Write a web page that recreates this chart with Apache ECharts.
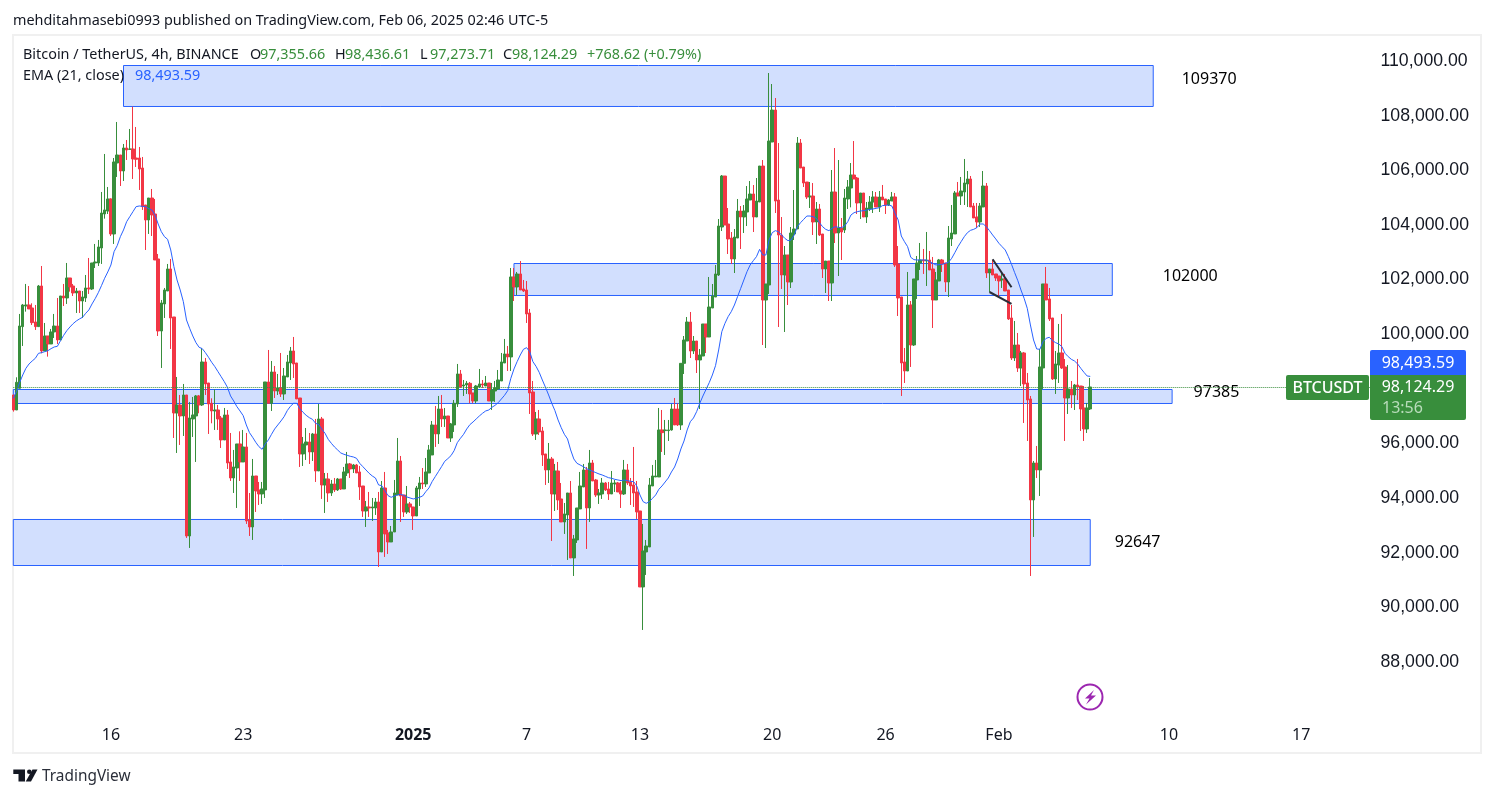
<!DOCTYPE html>
<html>
<head>
<meta charset="utf-8">
<title>BTCUSDT 4h</title>
<script src="https://cdn.jsdelivr.net/npm/echarts@6/dist/echarts.min.js"></script>
<style>
html, body { margin: 0; padding: 0; background: #fff; }
#main { width: 1494px; height: 798px; }
</style>
</head>
<body>
<div id="main"></div>
<script>
var opens = [
97776,97227,98020,100277,101033,101070,100960,100448,100277,101765,
99386,99935,99643,100082,100301,99789,101399,101326,102058,101765,
101509,101582,101216,101326,101692,101656,102607,102607,103156,104401,
104510,104950,103669,106267,106560,105974,106816,106768,106780,106450,
106450,106084,104730,104181,104986,104401,102754,100118,101107,101582,
102388,100631,97117,97410,97007,97776,92615,96898,97007,97739,
97410,98984,98215,97471,97190,97227,96934,96129,97044,95324,
94738,95104,95983,95324,95873,93201,92945,94811,94299,94153,
94299,98252,97471,98618,97922,98032,97813,98435,98947,99386,
98947,97666,95617,95946,96056,95690,96349,94994,96898,94482,
94702,94189,94519,94299,94702,94336,94921,95251,95068,95214,
94958,94445,93530,93677,93640,93640,93860,92030,94372,92725,
92396,92762,94116,95360,94116,93494,93787,93677,93347,94336,
94555,94519,94921,95580,96678,96349,97264,96898,97007,96202,
96678,97447,98545,98105,98142,98203,97849,97556,98069,98179,
98105,98215,97556,97922,97996,98288,98947,99277,99167,102095,
101729,102205,101656,101619,100777,97886,96349,96898,96458,95617,
95031,95434,94153,94994,93970,93128,93384,94189,91810,92469,
93604,94409,95031,93640,95287,94665,94116,94153,94555,94336,
94153,94519,94555,94262,94153,95031,94592,94482,94226,93530,
90749,92030,92213,94445,94775,94775,96495,96471,96471,96495,
97264,97264,96678,98934,99751,100447,99385,99751,99056,99202,
100374,99898,100959,101362,102167,103924,105790,104034,103521,102753,
103521,104509,104290,104473,104912,105132,104290,104839,106156,101252,
101801,107035,108206,104912,103631,102167,102899,101911,103668,103851,
106998,106120,105571,105022,105058,104107,104583,103668,102387,102679,
101874,105205,103704,103887,103814,104949,105351,105827,105717,104802,
105168,104290,104583,104839,105022,104656,105023,104950,104730,104876,
105023,102571,101363,98984,98654,101070,99606,101985,102607,102717,
102680,102717,102388,101253,101948,102717,102607,101912,103486,103669,
105169,105059,105206,105499,105682,104693,104291,104108,104657,105425,
102241,102388,102205,102131,101985,102022,101619,100594,99130,99606,
98764,99313,98215,97630,93933,95287,95031,98764,101839,101290,
100594,98362,98874,99313,98801,97666,97996,97776,98142,98105,
97300,96532,97264];

var closes = [
97227,98240,100301,101070,101070,100924,100423,100277,101765,99386,
99935,99643,100082,100301,99789,101399,101326,102058,101729,101509,
101582,101216,101363,101692,101656,102607,102644,103193,104437,104547,
104950,103669,106304,106560,105974,106816,106743,106780,106414,106401,
106048,104669,104181,104986,104364,102717,100118,101143,101619,102388,
100594,97117,97410,97007,97776,92615,96934,97044,97739,97410,
98984,98179,97447,97190,97227,96898,96129,97044,95287,94738,
95141,95983,95324,95873,93164,92945,94811,94262,94153,94336,
98252,97471,98618,97922,98032,97813,98471,98984,99386,98911,
97630,95617,95983,96056,95690,96349,94994,96898,94482,94702,
94189,94519,94299,94702,94336,94958,95251,95068,95214,94921,
94409,93530,93677,93640,93677,93860,92030,94372,92689,92396,
92762,94189,95360,94079,93494,93787,93677,93347,94372,94555,
94519,94958,95763,96678,96349,97264,96898,97007,96202,96715,
97471,98545,98069,98142,98203,97813,97556,98105,98179,98142,
98215,97556,97959,98032,98325,98984,99277,99167,102095,101729,
102205,101619,101582,100741,97849,96349,96898,96422,95580,95031,
95434,94153,94994,93933,93128,93421,94189,91810,92506,93640,
94445,95031,93640,95287,94628,94116,94189,94555,94299,94153,
94555,94555,94226,94153,95031,94555,94445,94189,93494,90749,
92066,92249,94482,94811,94811,96495,96397,96495,96495,97264,
96678,96678,98934,99788,100447,99385,99751,99056,99239,100374,
99898,100996,101398,102204,103960,105790,103997,103485,102753,103558,
104509,104290,104509,104949,105132,104290,104875,106156,101252,101838,
107071,108206,104875,103631,102167,102899,101911,103704,103851,106998,
106083,105534,105022,105058,104107,104583,103631,102387,102679,101874,
105205,103704,103887,103741,104985,105388,105827,105681,104802,105168,
104290,104619,104839,105022,104656,105022,104913,104730,104913,105023,
102534,101326,98947,98654,101070,99606,102022,102607,102717,102680,
102717,102351,101253,101985,102717,102571,101912,103522,103705,105169,
105059,105242,105535,105682,104657,104254,104108,104693,105425,102241,
102388,102168,102058,101948,102022,101582,100558,99130,99606,98764,
99313,98179,97593,93933,95287,95031,98801,101839,101253,100558,
98362,98911,99313,98764,97666,97996,97776,98142,98069,97264,
96532,97300,98069];

var highs = [
97776,98423,100741,101107,101839,101765,101131,101070,101802,102497,
100411,99935,100192,100741,101326,101399,101839,102607,102058,101839,
101692,101582,101582,102168,102790,102607,103303,103449,105206,106597,
105389,104974,106450,107768,106560,106963,107109,107512,108329,107585,
106853,106487,104730,104986,105316,104950,102937,101253,101692,102571,
102754,100631,98435,97776,98179,97776,97520,97703,97776,97776,
99496,99130,98215,97654,97983,97410,97007,97300,97227,96385,
95763,95983,96446,96495,96385,94189,95434,94811,94592,94592,
98252,99423,99020,98837,98545,99313,98764,99240,99533,99899,
98947,97666,96239,96568,96385,96385,96898,97447,96971,94921,
94921,94665,94738,94738,94702,95141,95690,95287,95251,95251,
95177,94445,93896,94226,94006,94006,94226,94628,94958,92835,
92981,94665,96202,95543,94116,94445,93860,93677,94445,94775,
95104,95470,95946,96824,97373,97739,97776,97300,97007,96751,
97593,98911,98691,98325,98288,98252,97849,98142,98728,98325,
98471,98215,98215,98288,98691,99313,99826,99569,102424,102424,
102278,102680,101985,101948,100924,98288,97154,97227,96605,95617,
96019,95507,95251,95324,94555,93823,94189,94628,92652,93640,
94958,95251,95141,95763,95397,94702,94336,94738,94592,94592,
94994,94665,94592,94592,95397,95251,94738,95873,94628,93530,
93055,92469,94738,95214,95397,97300,97227,96861,96861,97447,
97666,97471,98934,99934,100630,100813,99934,99751,99459,100374,
100374,102094,101838,102533,104217,105827,105790,104619,103741,103851,
104949,104692,104729,105424,105607,105461,105717,106156,106376,101838,
109560,109158,108645,106998,104290,103228,102899,103924,105278,107218,
107145,106120,105571,105571,105534,104839,104766,103668,102679,102679,
106010,106815,106376,104253,105315,105644,106266,107071,105754,105168,
105168,104839,105058,105241,105205,105241,105462,104950,104950,105206,
105169,103229,101363,99496,102278,101216,102022,102863,103339,103120,
103742,103046,102827,102278,102754,102754,102607,103961,104730,105242,
105572,105755,106414,105974,105791,104803,104803,104803,105974,105535,
102388,102717,102205,102131,102278,102205,101619,101070,100484,100045,
99386,99350,98581,97739,95360,95909,99460,101839,102461,101692,
100594,99386,100375,100741,99094,98874,98288,98179,99094,98105,
98105,97483,98398];

var lows = [
97166,97227,98020,99569,100826,100924,100338,100155,100277,99301,
99386,99179,99643,99862,99643,99789,101033,101107,101558,101399,
100777,100777,100594,101180,101473,101619,102424,102497,102571,104230,
104401,103595,103303,105755,105425,105608,106377,106743,105682,106121,
105279,104547,103083,103669,103595,102717,99935,98764,100594,101582,
99460,96202,95653,95946,96275,92542,92176,96239,95324,97105,
97373,97776,96349,96739,96495,96495,95836,96129,95068,94628,
94189,93640,94628,95324,93055,92615,92469,93494,93750,93787,
94006,97471,97190,97666,97776,97703,97593,98435,98325,98398,
97630,95141,95177,95397,95251,95360,94592,94994,93970,93457,
93860,94079,94226,94262,94299,94336,94811,94738,94921,94921,
93933,93311,92945,93311,93164,93384,91481,92030,91847,91957,
92396,92762,94116,93128,93311,93421,93457,92835,93347,93713,
94336,94409,94921,95580,95873,95983,96605,96605,96202,96056,
96422,97337,98032,97739,97813,97471,97471,97471,98032,98032,
98105,97556,97227,97520,97959,98288,98947,98654,98654,101216,
101436,101619,101546,100411,97081,96275,96129,96312,95177,94482,
94555,92432,93530,93567,93128,92689,91737,91810,91151,92359,
93604,94409,92140,93128,94628,94043,93787,93970,94262,93933,
94153,94226,94226,93640,94116,94482,93750,93677,93238,90749,
89175,91188,92213,94445,94775,94775,95690,95580,96092,96471,
96678,96641,96495,98544,99751,99129,99276,98580,97263,99202,
99312,99898,100959,101362,102130,103777,103997,102936,102570,102240,
103521,103119,103704,103960,104912,103741,104290,104839,99605,99495,
101472,107035,104436,100264,101655,100081,101069,101691,103448,103851,
106083,105388,104949,104619,103631,103302,103594,102057,101508,101215,
101215,103338,102130,102716,103704,104583,104644,105681,104400,104217,
104290,104070,104509,104436,104656,104473,104913,104401,104693,104876,
102461,100667,97739,98215,98654,98801,99569,101290,102351,102205,
101765,102351,100228,101253,101948,102278,101546,101363,103229,103669,
105059,104730,104730,104657,104657,104254,103888,103925,104657,102058,
101546,102168,101948,101363,101692,101582,100521,99057,99020,98618,
98105,96751,96092,91151,92579,94738,94079,97996,101253,100484,
98325,97813,98215,98728,96092,97081,97300,97227,97593,96458,
96092,96385,97227];

var ema21 = [
97654,97898,98227,98508,98752,98911,99020,99118,99301,99325,
99362,99399,99472,99533,99557,99765,99960,100131,100265,100387,
100484,100558,100619,100765,100887,101107,101302,101521,101778,102046,
102278,102534,103022,103242,103571,103815,104120,104303,104486,104669,
104693,104681,104669,104596,104547,104364,104035,103754,103571,103473,
103083,102473,101985,101619,101192,100521,100216,99935,99691,99521,
99472,99325,99155,98972,98813,98630,98447,98264,98057,97739,
97556,97349,97190,97020,96678,96397,96227,96044,95885,95787,
95983,96129,96336,96532,96678,96824,96983,97203,97361,97471,
97471,97276,97142,97032,96946,96885,96739,96690,96519,96373,
96153,96007,95873,95763,95653,95604,95568,95531,95507,95458,
95275,95153,95031,94909,94811,94738,94482,94458,94275,94092,
94031,94079,94116,94140,94104,94043,94006,93970,93994,94031,
94079,94238,94372,94604,94787,94970,95153,95348,95446,95556,
95739,96031,96190,96336,96532,96690,96788,96898,97007,97105,
97190,97227,97325,97398,97495,97630,97764,97935,98386,98728,
98996,99240,99447,99508,99362,98996,98825,98606,98325,98057,
97776,97471,97203,96861,96580,96336,96166,95763,95434,95275,
95214,95153,95080,95031,94982,94933,94885,94848,94799,94750,
94726,94689,94665,94641,94665,94641,94616,94604,94445,94116,
93872,93811,93872,93994,94116,94323,94445,94591,94738,94957,
95140,95433,95799,96092,96495,96798,96934,97165,97470,97738,
97982,98226,98507,98849,99422,100093,100398,100642,100825,101069,
101374,101679,101984,102289,102533,102692,102838,103106,102899,102899,
103448,103716,103790,103753,103631,103509,103424,103448,103631,103936,
104082,104204,104326,104326,104302,104241,104082,103936,103838,103790,
103875,103936,103912,103899,103960,104119,104363,104448,104485,104509,
104522,104546,104570,104583,104607,104631,104706,104718,104730,104693,
104425,104181,103595,103388,103205,102815,102729,102717,102717,102717,
102717,102656,102595,102534,102546,102559,102595,102632,102778,102985,
103205,103388,103571,103717,103803,103839,103900,104035,104035,103937,
103791,103632,103486,103327,103205,103083,102839,102558,102253,101961,
101619,101314,100948,100338,99789,99460,99447,99728,99850,99887,
99765,99691,99643,99545,99301,99179,99081,99020,98911,98752,
98606,98471,98456];

// time axis, one slot every 4 hours, runs on past the last candle
var startTime = Date.UTC(2024, 11, 10, 20);
var slotCount = 432;
var categories = [];
for (var i = 0; i < slotCount; i++) {
    categories.push(new Date(startTime + i * 4 * 3600 * 1000).toISOString().slice(0, 16).replace('T', ' '));
}

var tickDates = ['2024-12-16 00:00', '2024-12-23 00:00', '2025-01-01 00:00', '2025-01-07 00:00', '2025-01-13 00:00',
    '2025-01-20 00:00', '2025-01-26 00:00', '2025-02-01 00:00', '2025-02-10 00:00', '2025-02-17 00:00'];
var tickLabels = ['16', '23', '2025', '7', '13', '20', '26', 'Feb', '10', '17'];

// rectangles drawn on the chart
var zoneLabels = ['109370', '102000', '97385', '92647'];
var zoneTop = [109835, 102588, 97976, 93218];
var zoneBottom = [108335, 101417, 97464, 91534];
var zoneStart = ['2024-12-16 16:00', '2025-01-06 08:00', '2024-12-10 20:00', '2024-12-10 20:00'];
var zoneEnd = ['2025-02-09 04:00', '2025-02-07 00:00', '2025-02-10 04:00', '2025-02-05 20:00'];

// the two flag lines near Feb 1
var flagUpper = [['2025-01-31 16:00', 102742], ['2025-02-01 16:00', 101717]];
var flagLower = [['2025-01-31 12:00', 101545], ['2025-02-01 16:00', 101106]];

var green = '#388e3c', red = '#f23645', blue = '#2962ff', ink = '#131722';
var uiFont = '"Noto Sans", sans-serif';

var candles = opens.map(function (o, i) {
    return [o, closes[i], lows[i], highs[i]];
});

var zoneOffset = [[0, -7], [22, -3], [-7, -4], [-4, 0]];
var zones = zoneLabels.map(function (name, i) {
    return [{
        name: name,
        xAxis: zoneStart[i],
        yAxis: zoneTop[i],
        label: { offset: zoneOffset[i] }
    }, {
        xAxis: zoneEnd[i],
        yAxis: zoneBottom[i]
    }];
});

function txt(x, y, text, fill, size, align, weight) {
    return {
        type: 'text', z: 100, silent: true,
        style: {
            x: x, y: y, text: text, fill: fill,
            font: (weight || 'normal') + ' ' + (size || 14.4) + 'px ' + uiFont,
            align: align || 'left', verticalAlign: 'middle'
        }
    };
}

function box(x, y, w, h, fill, r) {
    return {
        type: 'rect', z: 99, silent: true,
        shape: { x: x, y: y, width: w, height: h, r: r || 0 },
        style: { fill: fill }
    };
}

var myChart = echarts.init(document.getElementById('main'), null, { renderer: 'canvas' });

myChart.setOption({
    animation: false,
    backgroundColor: '#fff',
    grid: { left: 13.3, top: 61, width: 1357.2, height: 655.7 },
    xAxis: {
        type: 'category',
        data: categories,
        boundaryGap: false,
        axisLine: { show: false },
        axisTick: { show: false },
        splitLine: { show: false },
        axisLabel: {
            margin: 11,
            color: ink,
            fontFamily: uiFont,
            fontSize: 16,
            interval: function (index, value) {
                return tickDates.indexOf(value) >= 0;
            },
            formatter: function (value) {
                var label = tickLabels[tickDates.indexOf(value)];
                return label === '2025' ? '{b|2025}' : label;
            },
            rich: { b: { fontWeight: 'bold', fontSize: 16, fontFamily: uiFont, color: ink } }
        }
    },
    yAxis: {
        type: 'value',
        position: 'right',
        min: 86000,
        max: 110000,
        interval: 2000,
        axisLine: { show: false },
        axisTick: { show: false },
        splitLine: { show: false },
        axisLabel: {
            margin: 10,
            color: ink,
            fontFamily: '"Liberation Sans", sans-serif',
            fontSize: 17.7,
            padding: [5, 0, 0, 0],
            formatter: function (v) {
                if (v === 86000) return '';
                return v.toLocaleString('en-US') + '.00';
            }
        }
    },
    series: [{
        name: 'BTCUSDT',
        type: 'candlestick',
        data: candles,
        barWidth: 3,
        itemStyle: {
            color: green, color0: red,
            borderColor: green, borderColor0: red,
            borderWidth: 1
        },
        markArea: {
            silent: true,
            itemStyle: { color: '#d2dffe', borderColor: blue, borderWidth: 1 },
            label: {
                show: true,
                position: 'right',
                distance: 28,
                color: '#000',
                fontFamily: uiFont,
                fontSize: 16,
                backgroundColor: '#fff'
            },
            data: zones
        },
        markLine: {
            silent: true,
            symbol: 'none',
            label: { show: false },
            lineStyle: { color: green, type: 'dotted', width: 1 },
            data: [{ yAxis: closes[closes.length - 1] }]
        }
    }, {
        name: 'EMA (21, close)',
        type: 'line',
        data: ema21,
        showSymbol: false,
        lineStyle: { color: blue, width: 1 },
        z: 4
    }, {
        type: 'line',
        data: flagUpper,
        showSymbol: false,
        lineStyle: { color: '#2a2e39', width: 2 },
        z: 5
    }, {
        type: 'line',
        data: flagLower,
        showSymbol: false,
        lineStyle: { color: '#2a2e39', width: 2 },
        z: 5
    }],
    graphic: [
        {
            type: 'rect', silent: true, z: 0,
            shape: { x: 13, y: 35, width: 1468, height: 718 },
            style: { fill: 'none', stroke: '#f0f0f0', lineWidth: 2 }
        },
        txt(13, 21, 'mehditahmasebi0993 published on TradingView.com, Feb 06, 2025 02:46 UTC-5', ink),
        txt(23, 55, 'Bitcoin / TetherUS, 4h, BINANCE', ink),
        txt(250, 55, 'O', ink), txt(260, 55, '97,355.66', green),
        txt(335, 55, 'H', ink), txt(345, 55, '98,436.61', green),
        txt(420, 55, 'L', ink), txt(430, 55, '97,273.71', green),
        txt(503, 55, 'C', ink), txt(512, 55, '98,124.29', green),
        txt(587, 55, '+768.62 (+0.79%)', green),
        txt(23, 76, 'EMA (21, close)', ink),
        txt(135, 76, '98,493.59', blue),
        // price tags on the right
        box(1370, 350, 96, 25, blue, [2, 2, 0, 0]),
        txt(1418, 363, '98,493.59', '#fff', 16, 'center'),
        box(1370, 375, 96, 45, green, [0, 0, 2, 2]),
        txt(1418, 387, '98,124.29', '#fff', 16, 'center'),
        txt(1382, 408, '13:56', '#b9dcbb', 16),
        box(1286, 375, 83, 25, green, 2),
        txt(1327.5, 388, 'BTCUSDT', '#fff', 16, 'center', '500'),
        // lightning badge
        {
            type: 'circle', z: 99, silent: true,
            shape: { cx: 1090, cy: 697, r: 12.5 },
            style: { fill: '#fff', stroke: '#9c27b0', lineWidth: 2 }
        },
        {
            type: 'polygon', z: 100, silent: true,
            shape: { points: [[1094, 690], [1085, 698.5], [1089.5, 698.5], [1086, 704.5], [1096, 695.5], [1091, 695.5]] },
            style: { fill: '#9c27b0' }
        },
        // TradingView mark
        {
            type: 'polygon', z: 100, silent: true,
            shape: { points: [[13.3, 769.5], [25, 769.5], [25, 781.5], [18.5, 781.5], [18.5, 774], [13.3, 774]] },
            style: { fill: ink }
        },
        {
            type: 'circle', z: 100, silent: true,
            shape: { cx: 29.3, cy: 771.8, r: 2.3 },
            style: { fill: ink }
        },
        {
            type: 'polygon', z: 100, silent: true,
            shape: { points: [[32.5, 769.5], [37.5, 769.5], [31, 781.5], [25.7, 781.5]] },
            style: { fill: ink }
        },
        txt(42, 777, 'TradingView', '#2a2e39', 15.4)
    ]
});
</script>
</body>
</html>
